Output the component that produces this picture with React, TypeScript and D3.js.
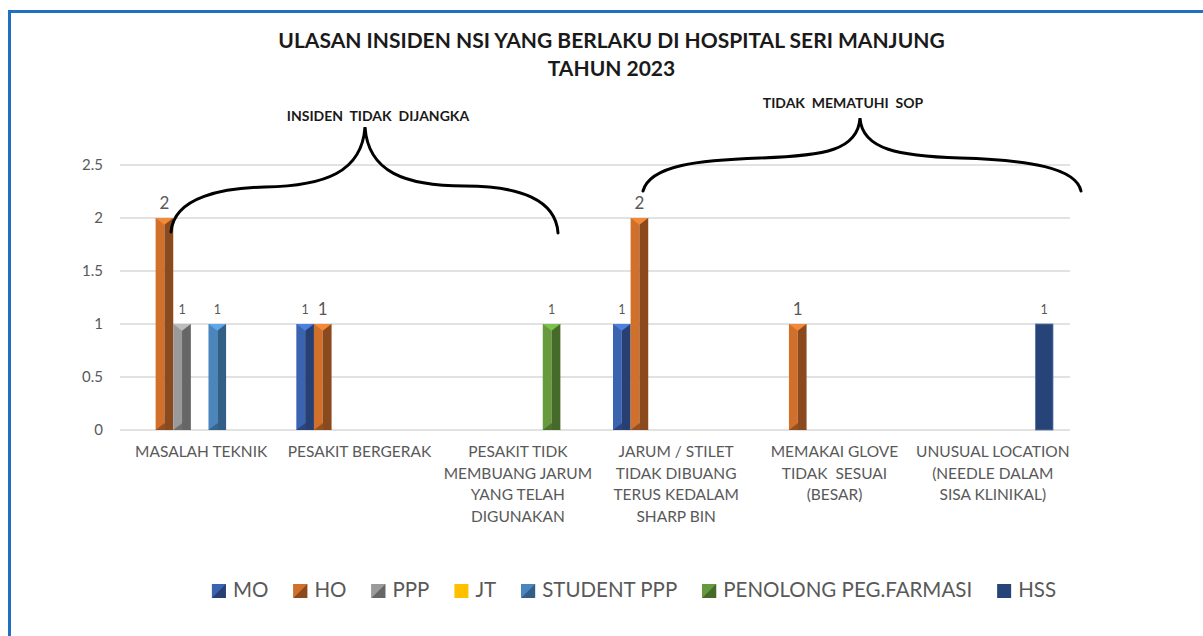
import React, { useEffect, useRef } from 'react';
import * as d3 from 'd3';

// Categories (x axis), each label broken into lines as in the source chart
const categories = [
  'MASALAH TEKNIK',
  'PESAKIT BERGERAK',
  'PESAKIT TIDK MEMBUANG JARUM YANG TELAH DIGUNAKAN',
  'JARUM / STILET TIDAK DIBUANG TERUS KEDALAM SHARP BIN',
  'MEMAKAI GLOVE TIDAK SESUAI (BESAR)',
  'UNUSUAL LOCATION (NEEDLE DALAM SISA KLINIKAL)',
];
const categoryLines = [
  ['MASALAH TEKNIK'],
  ['PESAKIT BERGERAK'],
  ['PESAKIT TIDK', 'MEMBUANG JARUM', 'YANG TELAH', 'DIGUNAKAN'],
  ['JARUM / STILET', 'TIDAK DIBUANG', 'TERUS KEDALAM', 'SHARP BIN'],
  ['MEMAKAI GLOVE', 'TIDAK  SESUAI', '(BESAR)'],
  ['UNUSUAL LOCATION', '(NEEDLE DALAM', 'SISA KLINIKAL)'],
];

// Series
const seriesNames = ['MO', 'HO', 'PPP', 'JT', 'STUDENT PPP', 'PENOLONG PEG.FARMASI', 'HSS'];
const moValues = [0, 1, 0, 1, 0, 0];
const hoValues = [2, 1, 0, 2, 1, 0];
const pppValues = [1, 0, 0, 0, 0, 0];
const jtValues = [0, 0, 0, 0, 0, 0];
const studentPppValues = [1, 0, 0, 0, 0, 0];
const penolongValues = [0, 0, 1, 0, 0, 0];
const hssValues = [0, 0, 0, 0, 0, 1];
const seriesValues = [moValues, hoValues, pppValues, jtValues, studentPppValues, penolongValues, hssValues];

const yTicks = [0, 0.5, 1, 1.5, 2, 2.5];

const titleLines = ['ULASAN INSIDEN NSI YANG BERLAKU DI HOSPITAL SERI MANJUNG', 'TAHUN 2023'];
const groupNotes = ['INSIDEN  TIDAK  DIJANGKA', 'TIDAK  MEMATUHI  SOP'];

// colours: face (left half), shade (right half), top bevel
const seriesColors: Record<string, { face: string; shade: string; top: string; flat?: boolean }> = {
  MO: { face: '#3b64b0', shade: '#283f74', top: '#4c80e0' },
  HO: { face: '#d0702a', shade: '#8b4a1e', top: '#f28a38' },
  PPP: { face: '#9a9a9a', shade: '#666666', top: '#bdbdbd' },
  JT: { face: '#ffc000', shade: '#ffc000', top: '#ffc000', flat: true },
  'STUDENT PPP': { face: '#4a86bd', shade: '#335f86', top: '#5ea7e8' },
  'PENOLONG PEG.FARMASI': { face: '#659b3c', shade: '#466a29', top: '#7cc24a' },
  HSS: { face: '#264478', shade: '#264478', top: '#264478', flat: true },
};
const labelSize: Record<string, number> = { HO: 17 };

const FONT = 'Lato, "Open Sans", "Liberation Sans", sans-serif';
const GREY = '#595959';

const App: React.FC = () => {
  const svgRef = useRef<SVGSVGElement>(null);

  useEffect(() => {
    if (!svgRef.current) return;
    const svg = d3.select(svgRef.current);
    svg.selectAll('*').remove();

    const width = 1203;
    const height = 636;
    const plot = { left: 120, right: 1070, top: 165, bottom: 430 };

    svg.append('rect').attr('width', width).attr('height', height).attr('fill', '#ffffff');

    // frame
    svg.append('line').attr('x1', 8).attr('x2', width).attr('y1', 11.5).attr('y2', 11.5)
      .attr('stroke', '#1f70c1').attr('stroke-width', 3);
    svg.append('line').attr('x1', 9.5).attr('x2', 9.5).attr('y1', 10).attr('y2', height)
      .attr('stroke', '#1f70c1').attr('stroke-width', 3);

    // scales
    const x0 = d3.scaleBand().domain(categories).range([plot.left, plot.right]);
    const bw = x0.bandwidth();
    const x1 = d3.scaleBand().domain(seriesNames).range([18, bw - 17]);
    const y = d3.scaleLinear().domain([0, 2.5]).range([plot.bottom, plot.top]);

    // grid
    svg.append('g')
      .selectAll('line')
      .data(yTicks)
      .join('line')
      .attr('x1', plot.left)
      .attr('x2', plot.right)
      .attr('y1', d => y(d))
      .attr('y2', d => y(d))
      .attr('stroke', '#d9d9d9')
      .attr('stroke-width', 1.3);

    svg.append('g')
      .selectAll('text')
      .data(yTicks)
      .join('text')
      .attr('x', 103)
      .attr('y', d => y(d) + 5)
      .attr('text-anchor', 'end')
      .style('font-family', FONT)
      .style('font-size', '15px')
      .style('fill', GREY)
      .text(d => String(d));

    // x labels
    categories.forEach((c, i) => {
      const cx = (x0(c) || 0) + bw / 2 + 2;
      const t = svg.append('text')
        .attr('text-anchor', 'middle')
        .style('font-family', FONT)
        .style('font-size', '15.5px')
        .style('fill', GREY)
        .style('white-space', 'pre');
      categoryLines[i].forEach((ln, j) => {
        t.append('tspan').attr('x', cx).attr('y', 457 + j * 21.5).text(ln);
      });
    });

    // bars
    seriesNames.forEach((s, si) => {
      const col = seriesColors[s];
      seriesValues[si].forEach((v, ci) => {
        if (!v) return;
        const bx = (x0(categories[ci]) || 0) + (x1(s) || 0);
        const w = x1.bandwidth();
        const top = y(v);
        const bot = y(0);
        const g = svg.append('g');
        if (col.flat) {
          g.append('rect').attr('x', bx).attr('y', top).attr('width', w).attr('height', bot - top)
            .attr('fill', col.face).attr('stroke', '#5a78aa').attr('stroke-width', 0.8);
        } else {
          const m = bx + w / 2;
          const bev = w * 0.38;
          g.append('rect').attr('x', bx).attr('y', top).attr('width', w / 2).attr('height', bot - top).attr('fill', col.face);
          g.append('rect').attr('x', m).attr('y', top).attr('width', w / 2).attr('height', bot - top).attr('fill', col.shade);
          g.append('path')
            .attr('d', `M${bx},${top} L${bx + w},${top} L${m},${top + bev} Z`)
            .attr('fill', col.top);
          g.append('path')
            .attr('d', `M${bx},${bot} L${bx + w},${bot} L${m},${bot - bev} Z`)
            .attr('fill', col.shade)
            .attr('opacity', 0.85);
        }
        // data label
        const fs = labelSize[s] || 12.5;
        g.append('text')
          .attr('x', bx + w / 2)
          .attr('y', top - (fs > 14 ? 9 : 10))
          .attr('text-anchor', 'middle')
          .style('font-family', FONT)
          .style('font-size', `${fs}px`)
          .style('fill', GREY)
          .text(String(v));
      });
    });

    // title
    titleLines.forEach((t, i) => {
      svg.append('text')
        .attr('x', 611.5)
        .attr('y', 48 + i * 28)
        .attr('text-anchor', 'middle')
        .style('font-family', FONT)
        .style('font-weight', 'bold')
        .style('font-size', '21px')
        .style('fill', '#1a1a1a')
        .text(t);
    });

    // group annotations with braces
    const notePos = [
      { x: 378, y: 121 },
      { x: 843, y: 108 },
    ];
    groupNotes.forEach((t, i) => {
      svg.append('text')
        .attr('x', notePos[i].x)
        .attr('y', notePos[i].y)
        .attr('text-anchor', 'middle')
        .style('font-family', FONT)
        .style('font-weight', 'bold')
        .style('font-size', '14px')
        .style('white-space', 'pre')
        .style('fill', '#1a1a1a')
        .text(t);
    });

    const braces = [
      'M171,232 C174,196 225,188 265,187 C325,186 362,172 365,127 C368,172 405,186 465,186 C520,186 556,200 558,233',
      'M643,191 C650,165 700,160 760,158 C825,156 858,150 860,118 C862,150 900,156 960,158 C1030,160 1076,168 1081,191',
    ];
    svg.append('g')
      .selectAll('path')
      .data(braces)
      .join('path')
      .attr('d', d => d)
      .attr('fill', 'none')
      .attr('stroke', '#000')
      .attr('stroke-width', 3)
      .attr('stroke-linecap', 'round');

    // legend
    const legend = svg.append('g');
    let lx = 0;
    const items: { g: any; w: number }[] = [];
    seriesNames.forEach(s => {
      const col = seriesColors[s];
      const g = legend.append('g');
      const ms = 14;
      if (col.flat) {
        g.append('rect').attr('x', 0).attr('y', -ms + 1).attr('width', ms).attr('height', ms).attr('fill', col.face);
      } else {
        g.append('rect').attr('x', 0).attr('y', -ms + 1).attr('width', ms).attr('height', ms).attr('fill', col.shade);
        g.append('path').attr('d', `M0,${-ms + 1} L${ms},${-ms + 1} L0,1 Z`).attr('fill', col.face);
      }
      const txt = g.append('text')
        .attr('x', ms + 7)
        .attr('y', 0)
        .style('font-family', FONT)
        .style('font-size', '20.5px')
        .style('fill', GREY)
        .text(s);
      const tw = (txt.node() as SVGTextElement).getComputedTextLength();
      items.push({ g, w: ms + 7 + tw });
    });
    const gap = 25;
    const total = items.reduce((a, it) => a + it.w, 0) + gap * (items.length - 1);
    lx = 634 - total / 2;
    items.forEach(it => {
      it.g.attr('transform', `translate(${lx},597)`);
      lx += it.w + gap;
    });
  }, []);

  return (
    <svg
      ref={svgRef}
      width={1203}
      height={636}
      style={{ position: 'absolute', left: 0, top: 0 }}
    />
  );
};

export default App;
